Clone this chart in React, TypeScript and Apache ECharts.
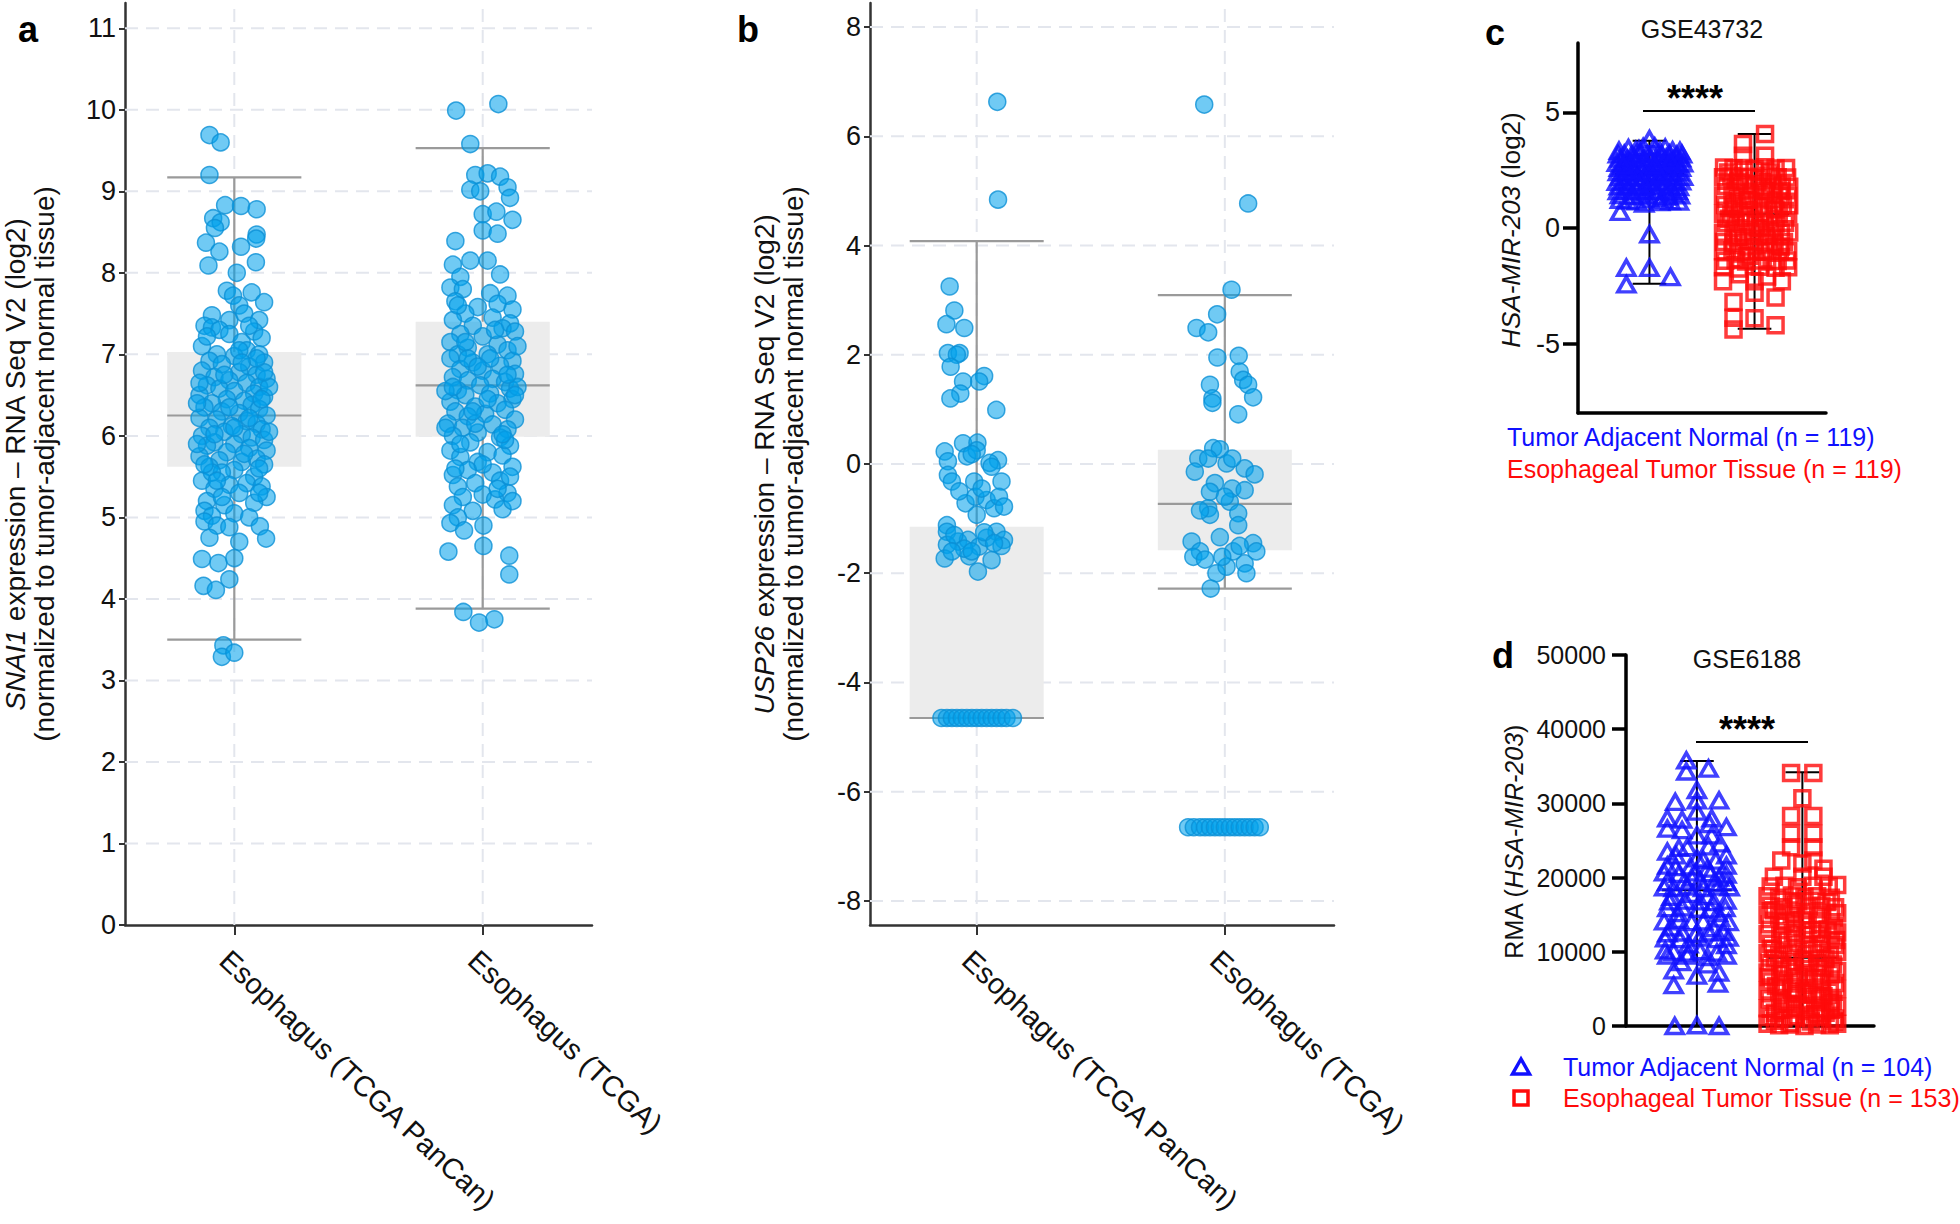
import React, { useEffect, useRef } from 'react';
import * as echarts from 'echarts';

const FONT = '"Liberation Sans", Arial, Helvetica, sans-serif';

// ---------------- Panel a : SNAI1 ----------------
const aCategories = ['Esophagus (TCGA PanCan)', 'Esophagus (TCGA)'];
const aTicks = [0, 1, 2, 3, 4, 5, 6, 7, 8, 9, 10, 11];
const aQ1 = [5.62, 5.99];
const aMedian = [6.25, 6.62];
const aQ3 = [7.03, 7.40];
const aLow = [3.50, 3.88];
const aHigh = [9.17, 9.53];
// [horizontal jitter, value]
const aPanCanPts = [
  [-0.10, 9.69], [-0.055, 9.6], [-0.10, 9.2], [-0.037, 8.83], [0.027, 8.82], [0.09, 8.78],
  [-0.085, 8.67], [-0.055, 8.62], [-0.078, 8.55], [0.09, 8.47], [0.088, 8.42], [-0.114, 8.37],
  [-0.06, 8.26], [0.027, 8.32], [0.087, 8.13], [-0.104, 8.09], [0.01, 8.0],
  [-0.03, 7.78], [0.07, 7.76], [-0.005, 7.72], [0.12, 7.64], [0.02, 7.6], [-0.09, 7.48], [0.04, 7.5], [-0.02, 7.42], [0.1, 7.42],
  [-0.12, 7.35], [-0.09, 7.33], [-0.06, 7.3], [0.08, 7.28], [0.11, 7.2], [-0.02, 7.25], [0.03, 7.15], [-0.13, 7.1], [0.05, 7.05], [-0.07, 7.0], [0.1, 7.0], [0.0, 6.98],
  [-0.1, 6.92], [0.12, 6.9], [-0.05, 6.88], [0.06, 6.85], [-0.13, 6.8], [0.02, 6.78], [0.09, 6.75], [-0.08, 6.72], [0.13, 6.7], [-0.02, 6.68],
  [0.05, 6.65], [-0.11, 6.62], [0.1, 6.6], [-0.06, 6.58], [0.0, 6.55], [0.08, 6.52], [-0.14, 6.5], [0.12, 6.48], [-0.03, 6.45], [0.04, 6.43],
  [-0.09, 6.4], [0.07, 6.38], [-0.12, 6.35], [0.1, 6.33], [-0.05, 6.3], [0.02, 6.28], [0.13, 6.25], [-0.14, 6.22], [-0.07, 6.2], [0.05, 6.18],
  [0.09, 6.15], [-0.01, 6.12], [-0.1, 6.1], [0.11, 6.08], [-0.04, 6.05], [0.03, 6.02], [-0.13, 6.0], [0.07, 5.98], [0.12, 5.95],
  [-0.08, 5.92], [0.0, 5.9], [-0.11, 5.88], [0.06, 5.85], [0.13, 5.82], [-0.03, 5.8], [-0.14, 5.75], [0.09, 5.72], [-0.06, 5.7], [0.03, 5.68],
  [0.12, 5.65], [-0.1, 5.62], [0.0, 5.58], [-0.05, 5.55], [0.08, 5.5],
  [-0.13, 5.45], [0.05, 5.42], [-0.02, 5.4], [0.11, 5.38], [-0.08, 5.35], [0.02, 5.3], [0.13, 5.25], [-0.11, 5.2], [0.08, 5.18], [-0.04, 5.15],
  [-0.12, 5.08], [0.0, 5.05], [-0.09, 5.02], [0.06, 5.0],
  [-0.12, 4.95], [-0.07, 4.9], [0.103, 4.89], [0.128, 4.74], [-0.02, 4.88], [0.02, 4.7], [-0.1, 4.75], [-0.13, 4.49], [-0.064, 4.44], [0.0, 4.5],
  [-0.02, 4.24], [-0.124, 4.16], [-0.074, 4.11], [-0.044, 3.43], [-0.05, 3.29], [0.0, 3.34],
  [0.14, 6.6], [0.14, 6.05], [-0.15, 6.4], [-0.15, 5.9], [0.06, 7.35], [-0.04, 6.75], [0.1, 5.6], [-0.09, 5.55],
  [-0.11, 7.22], [0.02, 7.05], [0.12, 6.78], [-0.02, 6.35], [0.06, 6.22], [-0.08, 6.02], [0.04, 5.78], [-0.12, 5.65],
  [0.1, 5.3], [-0.05, 5.25], [0.09, 6.95], [-0.14, 6.65], [0.0, 6.1], [0.11, 6.45], [-0.07, 5.45], [0.03, 6.9],
];
const aTcgaPts = [
  [-0.107, 9.99], [0.063, 10.07], [-0.05, 9.58],
  [-0.03, 9.2], [0.02, 9.22], [0.07, 9.18], [0.1, 9.05], [-0.05, 9.02], [-0.01, 9.0], [0.11, 8.92], [0.12, 8.65], [0.0, 8.72], [0.055, 8.75], [0.0, 8.52], [0.06, 8.48], [-0.11, 8.39],
  [-0.12, 8.1], [-0.05, 8.15], [0.02, 8.15], [0.07, 7.98], [-0.09, 7.95],
  [-0.13, 7.82], [-0.08, 7.8], [0.03, 7.75], [0.1, 7.72], [-0.11, 7.65], [0.06, 7.62], [-0.02, 7.58], [0.12, 7.55], [-0.07, 7.5],
  [0.04, 7.45], [-0.12, 7.42], [0.11, 7.38], [-0.04, 7.35], [0.08, 7.32], [0.13, 7.28], [-0.09, 7.25], [0.0, 7.22], [-0.13, 7.15], [0.06, 7.12],
  [-0.06, 7.08], [0.1, 7.05], [-0.1, 7.0], [0.02, 7.0],
  [-0.13, 6.95], [0.12, 6.92], [-0.04, 6.9], [0.07, 6.86], [-0.09, 6.82], [0.0, 6.8], [0.13, 6.76], [-0.12, 6.72], [0.04, 6.7], [-0.06, 6.68],
  [0.09, 6.66], [-0.01, 6.62], [0.11, 6.58], [-0.1, 6.56], [0.03, 6.52], [-0.07, 6.5],
  [0.12, 6.45], [-0.13, 6.42], [0.06, 6.4], [-0.03, 6.36], [0.09, 6.32], [-0.11, 6.3], [0.01, 6.27], [-0.06, 6.24], [0.13, 6.2], [-0.14, 6.15],
  [0.04, 6.14], [-0.08, 6.1], [0.1, 6.08], [-0.02, 6.04], [-0.12, 6.0], [0.07, 5.98],
  [-0.05, 5.92], [0.11, 5.88], [-0.13, 5.82], [0.02, 5.8], [0.08, 5.76], [-0.09, 5.74], [-0.02, 5.68], [0.12, 5.62], [-0.06, 5.58], [0.04, 5.55], [-0.12, 5.52],
  [0.07, 5.45], [-0.03, 5.42], [-0.1, 5.38], [0.1, 5.3], [0.0, 5.28], [-0.08, 5.25], [0.05, 5.22], [-0.12, 5.15], [0.08, 5.1], [-0.04, 5.08], [-0.1, 5.0],
  [-0.13, 4.93], [-0.075, 4.84], [0.003, 4.9], [-0.138, 4.58], [0.003, 4.65], [0.107, 4.53], [0.107, 4.3], [-0.078, 3.84], [-0.015, 3.71], [0.047, 3.75],
  [0.14, 7.1], [0.14, 6.6], [-0.15, 6.55], [-0.15, 6.1], [0.03, 6.95], [-0.03, 6.15], [0.09, 5.95], [0.12, 5.2],
  [-0.1, 7.6], [0.05, 7.3], [-0.06, 6.95], [0.1, 6.75], [-0.12, 6.6], [0.02, 6.45], [-0.04, 6.3], [0.08, 6.02],
  [-0.09, 5.9], [0.0, 5.65], [0.11, 5.5], [-0.07, 7.15], [0.13, 6.5], [-0.02, 6.85], [0.06, 5.35], [-0.11, 5.6],
];

// ---------------- Panel b : USP26 ----------------
const bCategories = ['Esophagus (TCGA PanCan)', 'Esophagus (TCGA)'];
const bTicks = [-8, -6, -4, -2, 0, 2, 4, 6, 8];
const bQ1 = [-4.65, -1.58];
const bMedian = [-4.65, -0.73];
const bQ3 = [-1.15, 0.26];
const bLow = [-4.65, -2.28];
const bHigh = [4.08, 3.09];
const bPanCanPts = [
  [0.083, 6.63], [0.086, 4.84],
  [-0.109, 3.25], [-0.09, 2.81], [-0.122, 2.56], [-0.05, 2.49], [-0.116, 2.03], [-0.069, 2.03], [-0.08, 2.0], [-0.105, 1.78],
  [0.03, 1.61], [0.01, 1.51], [-0.055, 1.51], [-0.066, 1.29], [-0.106, 1.2], [0.079, 0.99],
  [-0.055, 0.38], [0.003, 0.39], [-0.129, 0.23], [-0.039, 0.14], [0.086, 0.07], [-0.116, 0.05], [0.052, 0.02], [0.0, 0.25], [-0.02, 0.18],
  [-0.116, -0.2], [-0.1, -0.32], [0.1, -0.32], [-0.01, -0.32], [-0.045, -0.72], [-0.005, -0.6], [0.04, -0.66], [0.07, -0.81], [0.09, -0.6],
  [0.11, -0.78], [0.0, -0.93], [0.02, -0.45], [-0.07, -0.5], [0.06, -0.05],
  [-0.12, -1.12], [-0.12, -1.24], [-0.075, -1.42], [-0.12, -1.48], [-0.035, -1.39], [0.01, -1.51], [0.08, -1.24], [0.11, -1.39], [-0.129, -1.73],
  [-0.03, -1.69], [0.06, -1.76], [0.005, -1.97], [-0.09, -1.3], [-0.05, -1.55], [0.04, -1.35], [0.1, -1.5], [-0.1, -1.6], [0.03, -1.25],
  [-0.02, -1.6], [0.07, -1.45],
  [-0.142, -4.65], [-0.12, -4.65], [-0.1, -4.65], [-0.08, -4.65], [-0.06, -4.65], [-0.04, -4.65], [-0.02, -4.65], [0.0, -4.65],
  [0.02, -4.65], [0.04, -4.65], [0.06, -4.65], [0.08, -4.65], [0.1, -4.65], [0.12, -4.65], [0.146, -4.65],
];
const bTcgaPts = [
  [-0.083, 6.58], [0.094, 4.77], [0.027, 3.19], [-0.031, 2.74], [-0.114, 2.49], [-0.067, 2.41], [-0.03, 1.95], [0.056, 1.98],
  [0.06, 1.69], [0.074, 1.54], [0.094, 1.45], [-0.06, 1.45], [0.114, 1.22], [-0.05, 1.2], [-0.05, 1.12], [0.054, 0.91],
  [-0.047, 0.29], [-0.02, 0.27], [-0.107, 0.1], [-0.067, 0.1], [0.007, 0.01], [-0.121, -0.14], [0.08, -0.08], [0.12, -0.19], [0.03, 0.1],
  [-0.04, -0.35], [0.03, -0.45], [0.08, -0.48], [-0.06, -0.51], [-0.067, -0.81], [0.02, -0.69], [0.054, -0.9], [0.054, -1.12], [-0.06, -0.93],
  [0.0, -0.6], [-0.1, -0.85],
  [-0.134, -1.42], [-0.02, -1.34], [-0.1, -1.6], [-0.127, -1.7], [0.034, -1.6], [0.114, -1.45], [0.127, -1.6], [0.08, -1.82], [-0.034, -2.0],
  [0.007, -1.88], [0.087, -2.0], [-0.057, -2.28], [-0.08, -1.75], [0.06, -1.5], [-0.01, -1.7],
  [-0.148, -6.65], [-0.125, -6.65], [-0.1, -6.65], [-0.08, -6.65], [-0.06, -6.65], [-0.04, -6.65], [-0.02, -6.65], [0.0, -6.65],
  [0.02, -6.65], [0.04, -6.65], [0.06, -6.65], [0.08, -6.65], [0.1, -6.65], [0.12, -6.65], [0.141, -6.65],
];

// ---------------- Panel c : GSE43732 ----------------
const cTitle = 'GSE43732';
const cTicks = [-5, 0, 5];
const cGroups = ['Tumor Adjacent Normal (n = 119)', 'Esophageal Tumor Tissue (n = 119)'];
const cMin = [-2.41, -4.36];
const cMax = [3.77, 4.06];
const cMedian = [2.35, 0.59];
const cNormalPts = [
  [0, 3.84], [-0.29, 3.34], [-0.13, 3.36], [0.1, 3.32], [0.22, 3.35], [0.29, 3.33], [-0.2, 3.45], [0.05, 3.52], [-0.06, 3.5], [0.15, 3.47],
  [-0.3, 3.18], [-0.24, 3.2], [-0.17, 3.15], [-0.09, 3.22], [-0.02, 3.17], [0.04, 3.2], [0.12, 3.14], [0.19, 3.21], [0.26, 3.16], [0.31, 3.19],
  [-0.28, 3.0], [-0.21, 2.98], [-0.14, 3.03], [-0.06, 2.97], [0.01, 3.02], [0.08, 2.99], [0.16, 3.04], [0.23, 2.96], [0.3, 3.01],
  [-0.31, 2.82], [-0.25, 2.78], [-0.18, 2.8], [-0.1, 2.84], [-0.03, 2.77], [0.05, 2.81], [0.13, 2.79], [0.2, 2.83], [0.27, 2.78], [0.32, 2.8],
  [-0.29, 2.6], [-0.22, 2.63], [-0.15, 2.58], [-0.07, 2.62], [0.0, 2.59], [0.07, 2.64], [0.15, 2.57], [0.22, 2.61], [0.3, 2.6],
  [-0.3, 2.42], [-0.23, 2.38], [-0.16, 2.41], [-0.08, 2.44], [-0.01, 2.37], [0.06, 2.4], [0.14, 2.43], [0.21, 2.38], [0.28, 2.41],
  [-0.28, 2.2], [-0.2, 2.23], [-0.12, 2.18], [-0.05, 2.21], [0.03, 2.24], [0.1, 2.17], [0.18, 2.22], [0.25, 2.19], [0.32, 2.21],
  [-0.31, 2.0], [-0.24, 2.03], [-0.16, 1.98], [-0.08, 2.02], [0.0, 1.99], [0.08, 2.04], [0.16, 1.97], [0.24, 2.01], [0.3, 2.02],
  [-0.29, 1.8], [-0.21, 1.83], [-0.13, 1.78], [-0.04, 1.81], [0.04, 1.79], [0.12, 1.84], [0.2, 1.8], [0.28, 1.77],
  [-0.3, 1.6], [-0.22, 1.58], [-0.12, 1.62], [-0.02, 1.59], [0.07, 1.61], [0.17, 1.57], [0.27, 1.6],
  [-0.28, 1.42], [-0.16, 1.38], [-0.05, 1.41], [0.06, 1.4], [0.18, 1.37], [0.29, 1.41],
  [-0.28, 1.22], [-0.2, 1.18], [-0.12, 1.15], [0.0, 1.24], [0.1, 1.12], [0.2, 1.16], [0.28, 1.14],
  [-0.1, 3.4], [0.2, 2.9], [-0.2, 2.5], [0.1, 2.3], [-0.1, 1.9], [0.22, 1.5], [-0.25, 2.7], [0.05, 2.7], [0.12, 1.28], [-0.05, 1.05],
  [-0.28, 0.7], [0, -0.27], [-0.22, -1.72], [0, -1.72], [0.2, -2.12], [-0.22, -2.44],
];
const cTumorPts = [
  [0.1, 4.06], [-0.11, 3.63], [-0.11, 3.12], [0.1, 3.12],
  [-0.29, 2.62], [-0.2, 2.58], [-0.1, 2.6], [0.0, 2.55], [0.1, 2.63], [0.2, 2.57], [0.3, 2.6],
  [-0.3, 2.2], [-0.22, 2.24], [-0.14, 2.18], [-0.05, 2.22], [0.04, 2.16], [0.13, 2.25], [0.22, 2.2], [0.31, 2.18],
  [-0.27, 1.82], [-0.18, 1.78], [-0.09, 1.85], [0.0, 1.8], [0.08, 1.76], [0.17, 1.84], [0.26, 1.8], [0.33, 1.78],
  [-0.3, 1.4], [-0.21, 1.44], [-0.12, 1.38], [-0.03, 1.42], [0.06, 1.36], [0.15, 1.45], [0.24, 1.4], [0.32, 1.38],
  [-0.28, 1.0], [-0.19, 1.04], [-0.1, 0.97], [-0.01, 1.02], [0.09, 0.96], [0.18, 1.05], [0.27, 1.0], [0.33, 0.98],
  [-0.3, 0.62], [-0.22, 0.58], [-0.13, 0.64], [-0.04, 0.57], [0.05, 0.63], [0.14, 0.56], [0.23, 0.61], [0.32, 0.6],
  [-0.27, 0.22], [-0.18, 0.18], [-0.08, 0.24], [0.01, 0.17], [0.1, 0.21], [0.2, 0.19], [0.29, 0.23],
  [-0.3, -0.2], [-0.2, -0.16], [-0.11, -0.23], [-0.02, -0.18], [0.07, -0.22], [0.16, -0.17], [0.25, -0.2], [0.33, -0.19],
  [-0.29, -0.6], [-0.2, -0.64], [-0.1, -0.57], [0.0, -0.62], [0.1, -0.59], [0.19, -0.65], [0.28, -0.6],
  [-0.3, -1.0], [-0.21, -0.96], [-0.12, -1.03], [-0.03, -0.98], [0.06, -1.02], [0.15, -0.97], [0.24, -1.01], [0.32, -1.0],
  [-0.28, -1.42], [-0.18, -1.38], [-0.08, -1.45], [0.02, -1.4], [0.12, -1.36], [0.22, -1.43], [0.31, -1.4],
  [-0.3, -1.7], [-0.15, -1.75], [0.05, -1.68], [0.2, -1.72], [0.32, -1.7],
  [-0.25, 2.4], [0.15, 2.4], [-0.15, 2.0], [0.25, 1.6], [-0.06, 1.2], [0.2, 0.8], [-0.24, 0.4], [0.05, 0.0], [-0.16, -0.4], [0.25, -0.8],
  [-0.05, -1.2], [0.1, 1.6], [-0.2, 0.9], [0.12, -0.35],
  [-0.3, -2.3], [-0.14, -2.0], [0, -2.3], [0.12, -2.1], [0.26, -2.3], [0, -2.8], [-0.2, -3.2], [0.2, -3.0], [-0.2, -3.88], [0, -3.9],
  [-0.2, -4.39], [0.2, -4.2],
];

// ---------------- Panel d : GSE6188 (values in thousands) ----------------
const dTitle = 'GSE6188';
const dGroups = ['Tumor Adjacent Normal (n = 104)', 'Esophageal Tumor Tissue (n = 153)'];
const dMin = [0, 0];
const dMax = [35.7, 34.2];
const dMedian = [18.3, 9.2];
const dNormalPts = [
  [-0.10, 35.8], [-0.10, 34.3], [0.11, 34.7], [0, 31.8], [0, 30.4], [-0.205, 30.2], [0.21, 30.4], [0, 28.9], [-0.28, 28.0], [-0.14, 27.8],
  [0.14, 28.0], [0.28, 26.8], [-0.28, 26.6], [-0.14, 26.4], [0, 25.7], [0.14, 25.7],
  [-0.09, 24.1], [-0.17, 24.0], [0.11, 24.2], [-0.28, 23.5], [0.28, 23.0], [0, 22.6], [0.18, 22.3], [0.06, 22.4],
  [-0.28, 21.6], [-0.2, 21.4], [-0.06, 21.5], [0.28, 21.6],
  [-0.31, 20.7], [-0.17, 20.5], [-0.01, 20.7], [0.13, 20.6], [0.28, 20.4], [0.21, 20.0],
  [-0.28, 19.4], [-0.12, 19.5], [0.03, 19.6], [0.16, 19.3], [0.28, 19.4],
  [-0.31, 18.7], [-0.22, 18.6], [-0.09, 18.8], [0.06, 18.6], [0.2, 18.8], [0.31, 18.7],
  [-0.26, 16.8], [-0.11, 16.9], [0.03, 16.8], [0.16, 16.7], [0.28, 16.9],
  [-0.28, 15.9], [-0.14, 16.0], [0.02, 15.8], [0.13, 15.7], [0.27, 15.9],
  [-0.31, 14.1], [-0.17, 14.3], [-0.05, 14.0], [0.06, 14.1], [0.22, 14.5], [0.3, 14.0],
  [-0.28, 12.5], [-0.14, 12.6], [-0.01, 12.4], [0.11, 12.6], [0.25, 12.7],
  [-0.3, 11.8], [-0.16, 11.7], [0.03, 11.9], [0.19, 11.7], [0.3, 11.9],
  [-0.3, 10.2], [-0.22, 10.0], [-0.08, 9.9], [0.03, 10.1],
  [-0.28, 9.5], [-0.09, 9.5], [0.1, 9.3], [0.19, 9.9], [0.28, 9.5],
  [-0.2, 23.0], [0.22, 24.6], [-0.05, 20.0], [0.1, 21.2], [-0.24, 17.4], [0.1, 17.5], [-0.18, 15.2], [0.2, 15.2], [-0.24, 13.3], [0.16, 13.2],
  [-0.08, 11.0], [0.28, 10.9], [-0.15, 8.6], [0.1, 8.3], [-0.04, 17.8], [0.12, 27.2],
  [-0.22, 7.5], [0, 6.8], [0.21, 7.2], [-0.22, 5.5], [0.2, 5.7],
  [-0.21, 0], [0, 0.1], [0.21, 0],
];
const dTumorPts = [
  [-0.107, 34.1], [0.104, 34.1], [0, 30.7], [-0.107, 28.3], [0.104, 28.3], [-0.107, 25.9], [0.104, 25.9], [-0.107, 24.1], [0.104, 24.1],
  [-0.2, 22.3], [0.104, 22.3], [0.2, 21.2], [0, 21.9], [-0.27, 20.1], [0, 20.1], [0.2, 20.1],
  [-0.3, 18.8], [-0.17, 18.9], [-0.05, 18.7], [0.1, 18.9], [0.25, 18.8], [0.33, 19.0],
  [-0.33, 17.5], [-0.22, 17.3], [-0.1, 17.6], [0.02, 17.4], [0.14, 17.5], [0.27, 17.3],
  [-0.3, 16.2], [-0.18, 16.0], [-0.06, 16.3], [0.06, 16.1], [0.18, 16.2], [0.31, 16.0],
  [-0.33, 15.0], [-0.22, 14.8], [-0.1, 15.1], [0.03, 14.9], [0.15, 15.0], [0.27, 14.8], [0.33, 15.2],
  [-0.31, 13.7], [-0.19, 13.5], [-0.07, 13.8], [0.05, 13.6], [0.17, 13.7], [0.3, 13.5],
  [-0.33, 12.4], [-0.21, 12.2], [-0.09, 12.5], [0.03, 12.3], [0.15, 12.4], [0.27, 12.2], [0.33, 12.6],
  [-0.3, 11.1], [-0.18, 10.9], [-0.06, 11.2], [0.06, 11.0], [0.18, 11.1], [0.31, 10.9],
  [-0.33, 9.8], [-0.22, 9.6], [-0.1, 9.9], [0.02, 9.7], [0.14, 9.8], [0.26, 9.6], [0.33, 10.0],
  [-0.31, 8.5], [-0.19, 8.3], [-0.07, 8.6], [0.05, 8.4], [0.17, 8.5], [0.29, 8.3],
  [-0.33, 7.2], [-0.21, 7.0], [-0.09, 7.3], [0.03, 7.1], [0.15, 7.2], [0.27, 7.0], [0.33, 7.4],
  [-0.3, 6.0], [-0.18, 5.8], [-0.06, 6.1], [0.06, 5.9], [0.18, 6.0], [0.31, 5.8],
  [-0.33, 4.8], [-0.22, 4.6], [-0.1, 4.9], [0.02, 4.7], [0.14, 4.8], [0.26, 4.6], [0.33, 5.0],
  [-0.31, 3.6], [-0.19, 3.4], [-0.07, 3.7], [0.05, 3.5], [0.17, 3.6], [0.29, 3.4],
  [-0.33, 2.4], [-0.21, 2.2], [-0.09, 2.5], [0.03, 2.3], [0.15, 2.4], [0.27, 2.2], [0.33, 2.6],
  [-0.3, 1.2], [-0.18, 1.0], [-0.06, 1.3], [0.06, 1.1], [0.18, 1.2], [0.31, 1.0],
  [-0.33, 0.3], [-0.22, 0.1], [-0.1, 0.4], [0.02, 0.0], [0.14, 0.2], [0.26, 0.1], [0.33, 0.3],
  [-0.27, 15.6], [0.0, 14.3], [0.24, 13.0], [-0.14, 11.7], [0.1, 10.4], [-0.26, 9.1], [0.21, 7.8], [-0.03, 6.6], [-0.25, 5.4], [0.1, 4.2],
  [-0.14, 3.0], [0.22, 1.8], [-0.26, 0.7], [0.08, 0.6],
  [-0.04, 16.8], [0.23, 16.7], [-0.16, 14.2], [0.09, 12.9], [-0.28, 10.4], [0.22, 9.1], [-0.13, 7.8], [0.11, 6.5], [-0.2, 5.2], [0.2, 4.0],
  [-0.02, 2.9], [-0.26, 1.8], [0.12, 1.6], [-0.12, 0.2], [0.3, 0.6], [0.0, 8.9], [-0.05, 4.3], [0.26, 3.1], [-0.32, 6.6], [0.32, 11.6],
];

const BLUE = '#1010ff';
const RED = '#ff0a0a';

function segSeries(idx: number, data: number[][], stroke: string, width: number, dash: number[] | null, z: number) {
  return {
    type: 'custom', xAxisIndex: idx, yAxisIndex: idx, z, silent: true, data,
    renderItem: (_p: any, api: any) => {
      const p1 = api.coord([api.value(0), api.value(1)]);
      const p2 = api.coord([api.value(2), api.value(3)]);
      return {
        type: 'line',
        shape: { x1: p1[0], y1: p1[1], x2: p2[0], y2: p2[1] },
        style: { stroke, lineWidth: width, lineDash: dash || undefined },
      };
    },
  };
}

function boxSeries(idx: number, data: number[][]) {
  return {
    type: 'custom', xAxisIndex: idx, yAxisIndex: idx, z: 2, silent: true, data,
    renderItem: (_p: any, api: any) => {
      const hw = api.value(3);
      const p1 = api.coord([api.value(0) - hw, api.value(2)]);
      const p2 = api.coord([api.value(0) + hw, api.value(1)]);
      return {
        type: 'rect',
        shape: { x: p1[0], y: p1[1], width: p2[0] - p1[0], height: p2[1] - p1[1] },
        style: { fill: '#ececec' },
      };
    },
  };
}

function boxSegments(q1: number[], med: number[], q3: number[], lo: number[], hi: number[], hw: number) {
  const out: number[][] = [];
  for (let i = 0; i < q1.length; i++) {
    out.push([i, q3[i], i, hi[i]]);
    out.push([i, lo[i], i, q1[i]]);
    out.push([i - hw, hi[i], i + hw, hi[i]]);
    out.push([i - hw, lo[i], i + hw, lo[i]]);
    out.push([i - hw, med[i], i + hw, med[i]]);
  }
  return out;
}

function rangeSegments(mn: number[], mx: number[], med: number[], capHw: number, medHw: number) {
  const out: number[][] = [];
  for (let i = 0; i < mn.length; i++) {
    out.push([i, mn[i], i, mx[i]]);
    out.push([i - capHw, mx[i], i + capHw, mx[i]]);
    out.push([i - capHw, mn[i], i + capHw, mn[i]]);
    out.push([i - medHw, med[i], i + medHw, med[i]]);
  }
  return out;
}

function gridSegments(ticks: number[], xMin: number, xMax: number, yMin: number, yMax: number, cats: number) {
  const out: number[][] = [];
  ticks.forEach((t) => { if (t > yMin + 1e-9) out.push([xMin, t, xMax, t]); });
  for (let i = 0; i < cats; i++) out.push([i, yMin, i, yMax]);
  return out;
}

const toXY = (pts: number[][], cat: number) => pts.map(([dx, y]) => [cat + dx, y]);

const bubbleStyle = {
  color: 'rgba(0,160,235,0.7)',
  borderColor: '#0b90d6',
  borderWidth: 1.5,
};

export default function App() {
  const ref = useRef<HTMLDivElement>(null);

  useEffect(() => {
    if (!ref.current) return;
    const chart = echarts.init(ref.current, null, { renderer: 'svg' });

    const A = { xMin: -0.44, xMax: 1.44, yMin: 0, yMax: 11.31 };
    const B = { xMin: -0.43, xMax: 1.44, yMin: -8.44, yMax: 8.44 };

    const grayAxis = { show: true, onZero: false, lineStyle: { color: '#333', width: 2.5 } };
    const blackAxis = { show: true, onZero: false, lineStyle: { color: '#000', width: 3.5 } };

    const abX = (idx: number, cats: string[], r: any) => ({
      gridIndex: idx, type: 'value', min: r.xMin, max: r.xMax,
      axisLine: grayAxis,
      axisTick: { show: true, customValues: [0, 1], length: 10, lineStyle: { color: '#333', width: 2 } },
      axisLabel: {
        customValues: [0, 1], formatter: (v: number) => cats[Math.round(v)] || '',
        rotate: -43, align: 'left', verticalAlign: 'top', margin: 20,
        fontSize: 29, color: '#111', fontFamily: FONT,
      },
      splitLine: { show: false },
    });
    const abY = (idx: number, ticks: number[], r: any) => ({
      gridIndex: idx, type: 'value', min: r.yMin, max: r.yMax,
      axisLine: grayAxis,
      axisTick: { show: true, customValues: ticks, length: 6, lineStyle: { color: '#333', width: 2 } },
      axisLabel: { customValues: ticks, margin: 9, fontSize: 27, color: '#111', fontFamily: FONT },
      splitLine: { show: false },
    });

    const text = (x: number, y: number, t: string, extra: any = {}) => ({
      type: 'text', x, y, silent: true,
      style: { text: t, fontFamily: FONT, fontSize: 25, fill: '#111', align: 'center', verticalAlign: 'middle', ...extra },
    });
    const italic = (size: number, fill = '#111') => ({ i: { fontStyle: 'italic', fontSize: size, fontFamily: FONT, fill } });

    const option: any = {
      animation: false,
      backgroundColor: '#fff',
      textStyle: { fontFamily: FONT },
      grid: [
        { left: 125, top: 3, width: 467, height: 922, containLabel: false, outerBoundsMode: 'none' },
        { left: 870, top: 3, width: 464, height: 922, containLabel: false, outerBoundsMode: 'none' },
        { left: 1578, top: 43, width: 248, height: 370, containLabel: false, outerBoundsMode: 'none' },
        { left: 1626, top: 655, width: 248, height: 371, containLabel: false, outerBoundsMode: 'none' },
      ],
      xAxis: [
        abX(0, aCategories, A),
        abX(1, bCategories, B),
        { gridIndex: 2, type: 'value', min: -0.68, max: 1.68, axisLine: blackAxis, axisTick: { show: false }, axisLabel: { show: false }, splitLine: { show: false } },
        { gridIndex: 3, type: 'value', min: -0.672, max: 1.679, axisLine: blackAxis, axisTick: { show: false }, axisLabel: { show: false }, splitLine: { show: false } },
      ],
      yAxis: [
        abY(0, aTicks, A),
        abY(1, bTicks, B),
        {
          gridIndex: 2, type: 'value', min: -8, max: 8, axisLine: blackAxis,
          axisTick: { show: true, customValues: cTicks, length: 15, lineStyle: { color: '#000', width: 3.5 } },
          axisLabel: { customValues: cTicks, margin: 18, fontSize: 27, color: '#111', fontFamily: FONT },
          splitLine: { show: false },
        },
        {
          gridIndex: 3, type: 'value', min: 0, max: 50, interval: 10, axisLine: blackAxis,
          axisTick: { show: true, length: 14, lineStyle: { color: '#000', width: 3.5 } },
          axisLabel: { margin: 20, fontSize: 25, color: '#111', fontFamily: FONT, formatter: (v: number) => String(Math.round(v * 1000)) },
          splitLine: { show: false },
        },
      ],
      series: [
        // panel a
        segSeries(0, gridSegments(aTicks, A.xMin, A.xMax, A.yMin, A.yMax, 2), '#e3e6ed', 2, [13, 8], 1),
        boxSeries(0, [0, 1].map((i) => [i, aQ1[i], aQ3[i], 0.27])),
        segSeries(0, boxSegments(aQ1, aMedian, aQ3, aLow, aHigh, 0.27), '#9a9a9a', 2.2, null, 3),
        { type: 'scatter', xAxisIndex: 0, yAxisIndex: 0, z: 4, symbolSize: 17, itemStyle: bubbleStyle, data: toXY(aPanCanPts, 0) },
        { type: 'scatter', xAxisIndex: 0, yAxisIndex: 0, z: 4, symbolSize: 17, itemStyle: bubbleStyle, data: toXY(aTcgaPts, 1) },
        // panel b
        segSeries(1, gridSegments(bTicks, B.xMin, B.xMax, B.yMin, B.yMax, 2), '#e3e6ed', 2, [13, 8], 1),
        boxSeries(1, [0, 1].map((i) => [i, bQ1[i], bQ3[i], 0.27])),
        segSeries(1, boxSegments(bQ1, bMedian, bQ3, bLow, bHigh, 0.27), '#9a9a9a', 2.2, null, 3),
        { type: 'scatter', xAxisIndex: 1, yAxisIndex: 1, z: 4, symbolSize: 17, itemStyle: bubbleStyle, data: toXY(bPanCanPts, 0) },
        { type: 'scatter', xAxisIndex: 1, yAxisIndex: 1, z: 4, symbolSize: 17, itemStyle: bubbleStyle, data: toXY(bTcgaPts, 1) },
        // panel c
        segSeries(2, rangeSegments(cMin, cMax, cMedian, 0.16, 0.33), '#000', 2, null, 3),
        { type: 'scatter', name: cGroups[0], xAxisIndex: 2, yAxisIndex: 2, z: 4, symbol: 'triangle', symbolSize: [17, 15], itemStyle: { color: 'rgba(255,255,255,0)', borderColor: BLUE, borderWidth: 3.5 }, data: toXY(cNormalPts, 0) },
        { type: 'scatter', name: cGroups[1], xAxisIndex: 2, yAxisIndex: 2, z: 4, symbol: 'rect', symbolSize: 15, itemStyle: { color: 'rgba(255,255,255,0)', borderColor: RED, borderWidth: 3.5 }, data: toXY(cTumorPts, 1) },
        // panel d
        segSeries(3, rangeSegments(dMin, dMax, dMedian, 0.16, 0.33), '#000', 2, null, 3),
        { type: 'scatter', name: dGroups[0], xAxisIndex: 3, yAxisIndex: 3, z: 4, symbol: 'triangle', symbolSize: [17, 15], itemStyle: { color: 'rgba(255,255,255,0)', borderColor: BLUE, borderWidth: 3.5 }, data: toXY(dNormalPts, 0) },
        { type: 'scatter', name: dGroups[1], xAxisIndex: 3, yAxisIndex: 3, z: 4, symbol: 'rect', symbolSize: 15, itemStyle: { color: 'rgba(255,255,255,0)', borderColor: RED, borderWidth: 3.5 }, data: toXY(dTumorPts, 1) },
      ],
      graphic: [
        // panel letters
        text(18, 29, 'a', { fontSize: 36, fontWeight: 'bold', align: 'left', fill: '#000' }),
        text(737, 29, 'b', { fontSize: 36, fontWeight: 'bold', align: 'left', fill: '#000' }),
        text(1485, 32, 'c', { fontSize: 36, fontWeight: 'bold', align: 'left', fill: '#000' }),
        text(1492, 655, 'd', { fontSize: 36, fontWeight: 'bold', align: 'left', fill: '#000' }),
        // y titles a, b
        { ...text(30, 464, '{i|SNAI1} expression – RNA Seq V2 (log2)\n(normalized to tumor-adjacent normal tissue)', { fontSize: 28, lineHeight: 29, rich: italic(28) }), rotation: Math.PI / 2 },
        { ...text(779, 464, '{i|USP26} expression – RNA Seq V2 (log2)\n(normalized to tumor-adjacent normal tissue)', { fontSize: 28, lineHeight: 29, rich: italic(28) }), rotation: Math.PI / 2 },
        // panel c
        text(1702, 29, cTitle, { fontSize: 25 }),
        { ...text(1511, 230, '{i|HSA-MIR-203} (log2)', { fontSize: 26, rich: italic(26) }), rotation: Math.PI / 2 },
        text(1695, 98, '****', { fontSize: 36, fontWeight: 'bold', fill: '#000' }),
        { type: 'line', silent: true, shape: { x1: 1643, y1: 111, x2: 1755, y2: 111 }, style: { stroke: '#000', lineWidth: 2 } },
        text(1507, 437, cGroups[0], { align: 'left', fill: BLUE }),
        text(1507, 469, cGroups[1], { align: 'left', fill: RED }),
        // panel d
        text(1747, 659, dTitle, { fontSize: 25 }),
        { ...text(1514, 842, 'RMA ({i|HSA-MIR-203})', { fontSize: 25, rich: italic(25) }), rotation: Math.PI / 2 },
        text(1747, 729, '****', { fontSize: 36, fontWeight: 'bold', fill: '#000' }),
        { type: 'line', silent: true, shape: { x1: 1696, y1: 742, x2: 1808, y2: 742 }, style: { stroke: '#000', lineWidth: 2 } },
        { type: 'polygon', silent: true, shape: { points: [[1521, 1059], [1512.5, 1074], [1529.5, 1074]] }, style: { fill: 'none', stroke: BLUE, lineWidth: 3.5 } },
        { type: 'rect', silent: true, shape: { x: 1514, y: 1091, width: 14, height: 14 }, style: { fill: 'none', stroke: RED, lineWidth: 3.5 } },
        text(1563, 1067, dGroups[0], { align: 'left', fill: BLUE }),
        text(1563, 1098, dGroups[1], { align: 'left', fill: RED }),
      ],
    };

    chart.setOption(option);
    return () => chart.dispose();
  }, []);

  return (
    <div
      ref={ref}
      style={{ position: 'absolute', left: 0, top: 0, width: 1960, height: 1224, background: '#fff' }}
    />
  );
}
